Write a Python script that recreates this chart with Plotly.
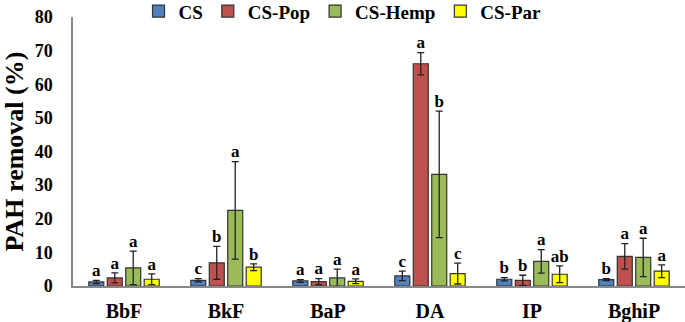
import plotly.graph_objects as go

categories = ["BbF", "BkF", "BaP", "DA", "IP", "BghiP"]
series_names = ["CS", "CS-Pop", "CS-Hemp", "CS-Par"]
colors = ["#4F81BD", "#C0504D", "#9BBB59", "#FFFF00"]

cs_vals = [1.2, 1.7, 1.5, 3.0, 2.0, 1.9]
cs_err = [0.5, 0.5, 0.4, 1.4, 0.5, 0.3]
cs_letters = ["a", "c", "a", "c", "b", "b"]

pop_vals = [2.4, 6.9, 1.3, 66.1, 1.7, 8.8]
pop_err = [1.5, 4.9, 0.9, 3.3, 1.5, 3.8]
pop_letters = ["a", "b", "a", "a", "b", "a"]

hemp_vals = [5.4, 22.5, 2.4, 33.2, 7.3, 8.5]
hemp_err = [5.0, 14.5, 2.6, 18.8, 3.5, 5.7]
hemp_letters = ["a", "a", "a", "b", "a", "a"]

par_vals = [2.0, 5.6, 1.4, 3.7, 3.5, 4.4]
par_err = [1.6, 1.0, 0.7, 3.1, 2.5, 1.9]
par_letters = ["a", "b", "a", "c", "ab", "a"]

values = [cs_vals, pop_vals, hemp_vals, par_vals]
errors = [cs_err, pop_err, hemp_err, par_err]
letters = [cs_letters, pop_letters, hemp_letters, par_letters]

y_ticks = [0, 10, 20, 30, 40, 50, 60, 70, 80]

pitch = 0.181
bar_w = 0.147
FONT = "Liberation Serif"

fig = go.Figure()
xs = list(range(len(categories)))
for k, name in enumerate(series_names):
    off = (k - 1.5) * pitch
    fig.add_trace(go.Bar(
        x=xs, y=values[k], name="<b>" + name + "</b>",
        width=bar_w, offset=off - bar_w / 2,
        marker=dict(color=colors[k], line=dict(color="#333333", width=1.2)),
        error_y=dict(type="data", array=errors[k], color="#222222", thickness=1.3, width=3.5),
    ))
for k, name in enumerate(series_names):
    off = (k - 1.5) * pitch
    fig.add_trace(go.Scatter(
        x=[i + off for i in xs],
        y=[v + e for v, e in zip(values[k], errors[k])],
        mode="text", text=["<b>" + t + "</b>" for t in letters[k]],
        textposition="top center",
        textfont=dict(family=FONT, size=17, color="black"),
        showlegend=False, hoverinfo="skip", cliponaxis=False,
    ))

fig.update_layout(
    width=685, height=322,
    margin=dict(l=73, r=0, t=17, b=36, autoexpand=False),
    plot_bgcolor="white", paper_bgcolor="white",
    barmode="overlay",
    font=dict(family=FONT, color="black"),
    legend=dict(orientation="h", xref="container", x=0.5, xanchor="center",
                yref="container", y=0.965, yanchor="middle",
                font=dict(family=FONT, size=19, color="black"),
                itemwidth=30, tracegroupgap=0, bgcolor="rgba(0,0,0,0)"),
    xaxis=dict(range=[-0.5, 5.5], tickvals=xs,
               ticktext=["<b>" + c + "</b>" for c in categories],
               showline=True, linecolor="#888888", linewidth=1.5,
               showgrid=False, zeroline=False, ticks="", automargin=False,
               tickfont=dict(family=FONT, size=20, color="black"),
               ticklabelstandoff=6),
    yaxis=dict(range=[0, 80], tickvals=y_ticks,
               ticktext=["<b>" + str(t) + "</b>" for t in y_ticks],
               showline=True, linecolor="#888888", linewidth=1.5,
               showgrid=False, zeroline=False, ticks="", automargin=False,
               tickfont=dict(family=FONT, size=18, color="black"),
               ticklabelstandoff=15,
               title=dict(text="<b>PAH removal (%)</b>",
                          font=dict(family=FONT, size=26, color="black"),
                          standoff=4)),
)

fig.write_html("out.html", config={"displayModeBar": False},
               post_script="document.body.style.margin='0';document.body.style.padding='0';")
